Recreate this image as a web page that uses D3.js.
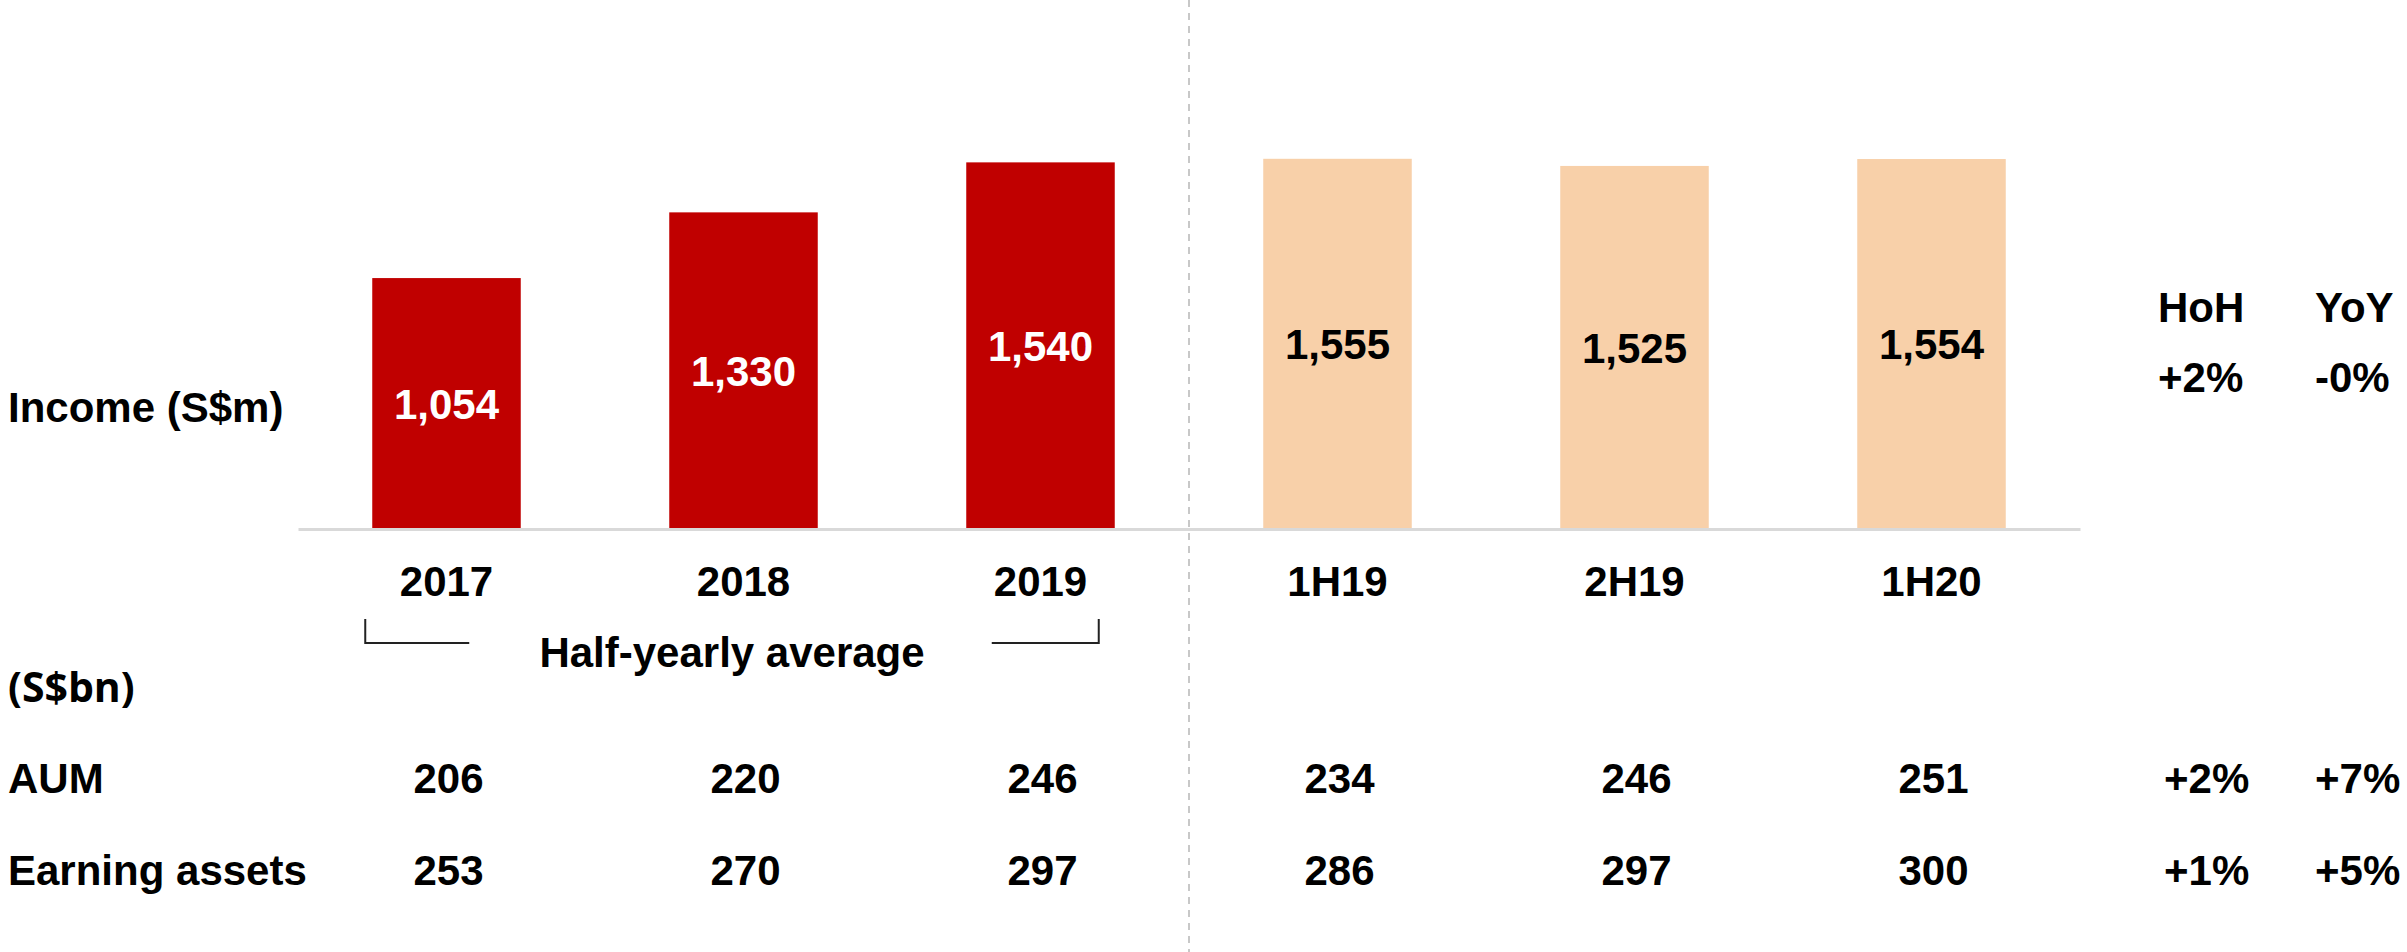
<!DOCTYPE html>
<html lang="en">
<head>
    <meta charset="UTF-8">
    <title>Income, AUM and Earning assets</title>
    <script src="https://d3js.org/d3.v7.min.js"></script>
    <style>
        body {
            margin: 0;
            padding: 0;
            background: #fff;
        }
        svg {
            display: block;
            font-family: "Liberation Sans", Arial, sans-serif;
            font-weight: bold;
        }
        .label {
            font-size: 42px;
            fill: #000;
        }
        .axis .domain {
            stroke: #d9d9d9;
            stroke-width: 3px;
        }
        .axis text {
            font-size: 42px;
            font-weight: bold;
            fill: #000;
        }
    </style>
</head>
<body>
    <svg width="2407" height="952"></svg>

    <script>
        const categories = ["2017", "2018", "2019", "1H19", "2H19", "1H20"];
        const periodType = ["year", "year", "year", "half", "half", "half"];
        const income = [1054, 1330, 1540, 1555, 1525, 1554];
        const aum = [206, 220, 246, 234, 246, 251];
        const earningAssets = [253, 270, 297, 286, 297, 300];

        const changeHeaders = ["HoH", "YoY"];
        const incomeChange = ["+2%", "-0%"];
        const aumChange = ["+2%", "+7%"];
        const earningChange = ["+1%", "+5%"];

        const svg = d3.select("svg");
        const baseline = 529;

        const data = categories.map((c, i) => ({
            cat: c, type: periodType[i], income: income[i], aum: aum[i], ea: earningAssets[i]
        }));

        const x = d3.scaleBand()
            .domain(categories)
            .range([298, 2080])
            .paddingInner(0.5)
            .paddingOuter(0.25);

        const y = d3.scaleLinear()
            .domain([0, 2222])
            .range([baseline, 0]);

        const color = d3.scaleOrdinal()
            .domain(["year", "half"])
            .range(["#c00000", "#f8d0a9"]);

        // dashed divider between yearly and half-yearly
        const divX = (x("2019") + x.bandwidth() + x("1H19")) / 2;
        svg.append("line")
            .attr("x1", divX).attr("x2", divX)
            .attr("y1", 0).attr("y2", 952)
            .attr("stroke", "#c8c8c8")
            .attr("stroke-width", 2)
            .attr("stroke-dasharray", "7,6");

        // bars
        svg.selectAll(".bar")
            .data(data)
            .enter()
            .append("rect")
            .attr("class", "bar")
            .attr("x", d => x(d.cat))
            .attr("y", d => y(d.income))
            .attr("width", x.bandwidth())
            .attr("height", d => baseline - y(d.income))
            .attr("fill", d => color(d.type));

        // bar labels
        svg.selectAll(".bar-label")
            .data(data)
            .enter()
            .append("text")
            .attr("class", "label")
            .attr("x", d => x(d.cat) + x.bandwidth() / 2)
            .attr("y", d => (y(d.income) + baseline) / 2)
            .attr("dy", "0.36em")
            .attr("text-anchor", "middle")
            .style("fill", d => d.type === "year" ? "#fff" : "#000")
            .text(d => d3.format(",")(d.income));

        // category axis
        const axis = svg.append("g")
            .attr("class", "axis")
            .attr("transform", `translate(0,${baseline})`)
            .call(d3.axisBottom(x).tickSize(0).tickSizeOuter(0).tickPadding(37));
        axis.selectAll(".tick line").remove();

        // row labels
        svg.append("text").attr("class", "label")
            .attr("x", 8).attr("y", 422).text("Income (S$m)");
        svg.append("text").attr("class", "label")
            .attr("x", 8).attr("y", 702)
            .style("font-family", "'Open Sans', sans-serif")
            .style("font-size", "41px")
            .text("(S$bn)");
        svg.append("text").attr("class", "label")
            .attr("x", 8).attr("y", 793).text("AUM");
        svg.append("text").attr("class", "label")
            .attr("x", 8).attr("y", 885).text("Earning assets");

        // half-yearly average bracket
        const bx0 = x("2017") - 7;
        const bx1 = x("2019") + x.bandwidth() - 16;
        svg.append("path")
            .attr("d", `M${bx0},619V643H${bx0 + 104}`)
            .attr("fill", "none").attr("stroke", "#222").attr("stroke-width", 2);
        svg.append("path")
            .attr("d", `M${bx1 - 107},643H${bx1}V619`)
            .attr("fill", "none").attr("stroke", "#222").attr("stroke-width", 2);
        svg.append("text").attr("class", "label")
            .attr("x", (bx0 + bx1) / 2).attr("y", 667)
            .attr("text-anchor", "middle")
            .text("Half-yearly average");

        // AUM and earning assets rows
        const rows = [
            { key: "aum", y: 793 },
            { key: "ea", y: 885 }
        ];
        rows.forEach(r => {
            svg.selectAll(`.val-${r.key}`)
                .data(data)
                .enter()
                .append("text")
                .attr("class", "label")
                .attr("x", d => x(d.cat) + x.bandwidth() / 2 + 2)
                .attr("y", r.y)
                .attr("text-anchor", "middle")
                .text(d => d[r.key]);
        });

        // change columns
        const colX = [2158, 2313];
        const changeRows = [
            { vals: changeHeaders, y: 322, dx: 0 },
            { vals: incomeChange, y: 392, dx: 0 },
            { vals: aumChange, y: 793, dx: 6 },
            { vals: earningChange, y: 885, dx: 6 }
        ];
        changeRows.forEach(r => {
            r.vals.forEach((v, i) => {
                svg.append("text").attr("class", "label")
                    .attr("x", colX[i] + (i === 0 ? r.dx : 2))
                    .attr("y", r.y)
                    .text(v);
            });
        });
    </script>
</body>
</html>
